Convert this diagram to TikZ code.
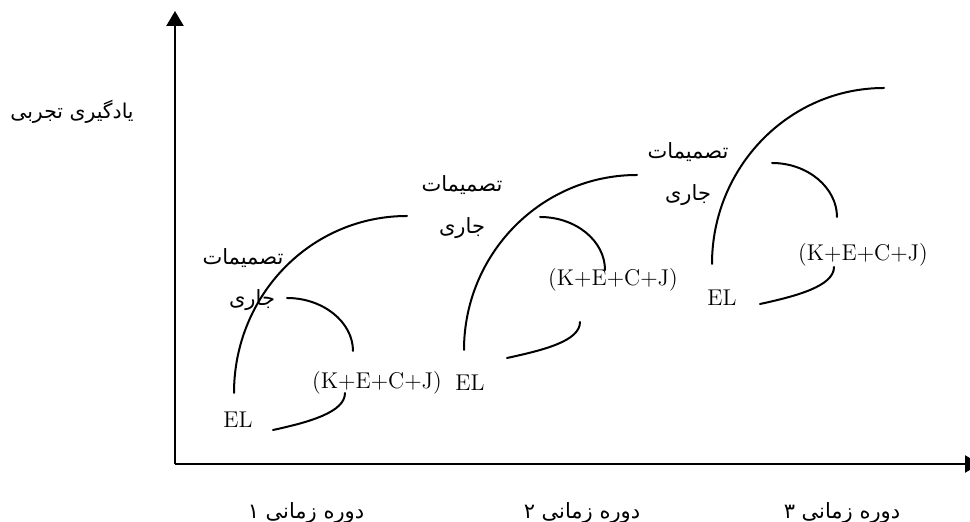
\documentclass[tikz,border=0pt]{standalone}
\usepackage{fontspec}
\usepackage{tikz}
\usetikzlibrary{arrows.meta}
\TeXXeTstate=1
\newfontfamily\arabicfont[Script=Arabic]{DejaVu Sans}
\newcommand{\fatext}[1]{\beginR #1\endR}

\begin{document}
\begin{tikzpicture}[x=0.5pt,y=-0.5pt,>={Triangle[length=7.5pt,width=8.5pt]},
  latin/.style={font=\fontsize{11.4}{13}\selectfont,inner sep=0pt},
  farsi/.style={font=\fontsize{10.5}{12}\arabicfont,inner sep=0pt},
  curve/.style={line width=1pt,line cap=round}]
  \clip (0,0) rectangle (970,522);
  % axes
  \coordinate (origin) at (175,464);
  \coordinate (ytip) at (175,11);
  \coordinate (xtip) at (980,464);
  \draw[->,line width=1.2pt] (origin) -- (ytip);
  \draw[->,line width=1.2pt] (origin) -- (xtip);
  \node[farsi,font=\fontsize{10.2}{12}\arabicfont] (ylabel) at (72,112) {\fatext{یادگیری تجربی}};
  \node[farsi] (period1) at (306,513) {\fatext{دوره زمانی ۱}};
  \node[farsi] (period2) at (582,513) {\fatext{دوره زمانی ۲}};
  \node[farsi] (period3) at (842,513) {\fatext{دوره زمانی ۳}};
  % period 1
  \node[farsi] (dec1) at (243,258) {\fatext{تصمیمات}};
  \node[farsi] (cur1) at (252,300) {\fatext{جاری}};
  \node[latin] (el1) at (238,420) {EL};
  \node[latin] (kecj1) at (377,383) {(K+E+C+J)};
  \coordinate (big1a) at (234,393);
  \coordinate (big1b) at (407,216);
  \coordinate (small1a) at (287,298);
  \coordinate (small1b) at (353,351);
  \coordinate (low1a) at (273,430);
  \coordinate (low1b) at (345,393);
  \draw[curve] (big1a) .. controls (234,295) and (311,216) .. (big1b);
  \draw[curve] (small1a) .. controls (323,298) and (353,322) .. (small1b);
  \draw[curve] (low1a) .. controls (310,422) and (345,412) .. (low1b);
  % period 2
  \node[farsi] (dec2) at (462,185) {\fatext{تصمیمات}};
  \node[farsi] (cur2) at (462,228) {\fatext{جاری}};
  \node[latin] (el2) at (470,383) {EL};
  \node[latin] (kecj2) at (613,280) {(K+E+C+J)};
  \coordinate (big2a) at (464,350);
  \coordinate (big2b) at (637,175);
  \coordinate (small2a) at (540,217);
  \coordinate (small2b) at (605,270);
  \coordinate (low2a) at (507,358);
  \coordinate (low2b) at (580,322);
  \draw[curve] (big2a) .. controls (464,254) and (541,175) .. (big2b);
  \draw[curve] (small2a) .. controls (576,217) and (605,241) .. (small2b);
  \draw[curve] (low2a) .. controls (544,350) and (580,341) .. (low2b);
  % period 3
  \node[farsi] (dec3) at (688,152) {\fatext{تصمیمات}};
  \node[farsi] (cur3) at (688,195) {\fatext{جاری}};
  \node[latin] (el3) at (722,298) {EL};
  \node[latin] (kecj3) at (863,255) {(K+E+C+J)};
  \coordinate (big3a) at (712,264);
  \coordinate (big3b) at (884,88);
  \coordinate (small3a) at (772,163);
  \coordinate (small3b) at (837,217);
  \coordinate (low3a) at (760,304);
  \coordinate (low3b) at (834,267);
  \draw[curve] (big3a) .. controls (712,167) and (789,88) .. (big3b);
  \draw[curve] (small3a) .. controls (808,163) and (837,188) .. (small3b);
  \draw[curve] (low3a) .. controls (797,296) and (834,286) .. (low3b);
\end{tikzpicture}
\end{document}
